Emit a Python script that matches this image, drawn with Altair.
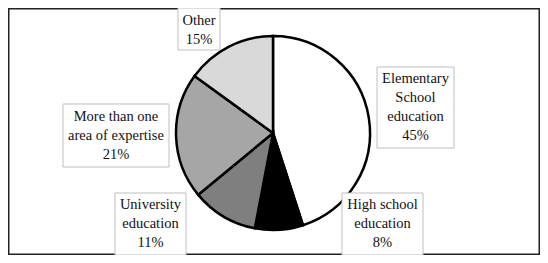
import altair as alt
import pandas as pd

# ---- data ----
CATEGORIES = ["Elementary School education", "High school education",
              "University education", "More than one area of expertise", "Other"]
VALUES = [45, 8, 11, 21, 15]
COLORS = ["#ffffff", "#000000", "#7f7f7f", "#a6a6a6", "#d9d9d9"]

# ---- layout (label wrapping and box placement, in pixels of the view) ----
WRAPPED = ["Elementary\nSchool\neducation", "High school\neducation",
           "University\neducation", "More than one\narea of expertise", "Other"]
BOX_X = [369, 334, 107, 55, 170]
BOX_X2 = [446, 415, 178, 161, 212]
BOX_Y = [59, 185, 185, 96, 0]
BOX_Y2 = [140, 247, 247, 159, 42]
TEXT_Y = [71, 197, 197, 109, 13]   # first line position

CX, CY, R = 265, 125, 97
W, H = 532, 247

pie_df = pd.DataFrame({"category": CATEGORIES, "value": VALUES,
                       "order": list(range(len(CATEGORIES)))})

lab_df = pd.DataFrame({
    "text": [f"{w}\n{v}%" for w, v in zip(WRAPPED, VALUES)],
    "x": BOX_X, "x2": BOX_X2, "y": BOX_Y, "y2": BOX_Y2,
    "tx": [(a + b) / 2 for a, b in zip(BOX_X, BOX_X2)], "ty": TEXT_Y,
})

pie = alt.Chart(pie_df).mark_arc(radius=R, stroke="black", strokeWidth=2.5).encode(
    theta=alt.Theta("value:Q", stack=True),
    order=alt.Order("order:Q"),
    color=alt.Color("category:N", scale=alt.Scale(domain=CATEGORIES, range=COLORS), legend=None),
    x=alt.value(CX), y=alt.value(CY),
)

boxes = alt.Chart(lab_df).mark_rect(fill="white", stroke="#bfbfbf", strokeWidth=1).encode(
    x=alt.X("x:Q", scale=None), x2="x2:Q",
    y=alt.Y("y:Q", scale=None), y2="y2:Q",
)

texts = alt.Chart(lab_df).mark_text(
    font="Liberation Serif", fontSize=14.5, color="#111111",
    lineBreak="\n", lineHeight=19, align="center", baseline="middle",
).encode(
    x=alt.X("tx:Q", scale=None), y=alt.Y("ty:Q", scale=None), text="text:N",
)

chart = alt.layer(pie, boxes, texts).properties(
    width=W, height=H, padding=0,
    autosize=alt.AutoSizeParams(type="none"),
).configure_view(stroke="#222222", strokeWidth=3)

chart.save("out.html", embed_options={"renderer": "svg", "actions": False})
